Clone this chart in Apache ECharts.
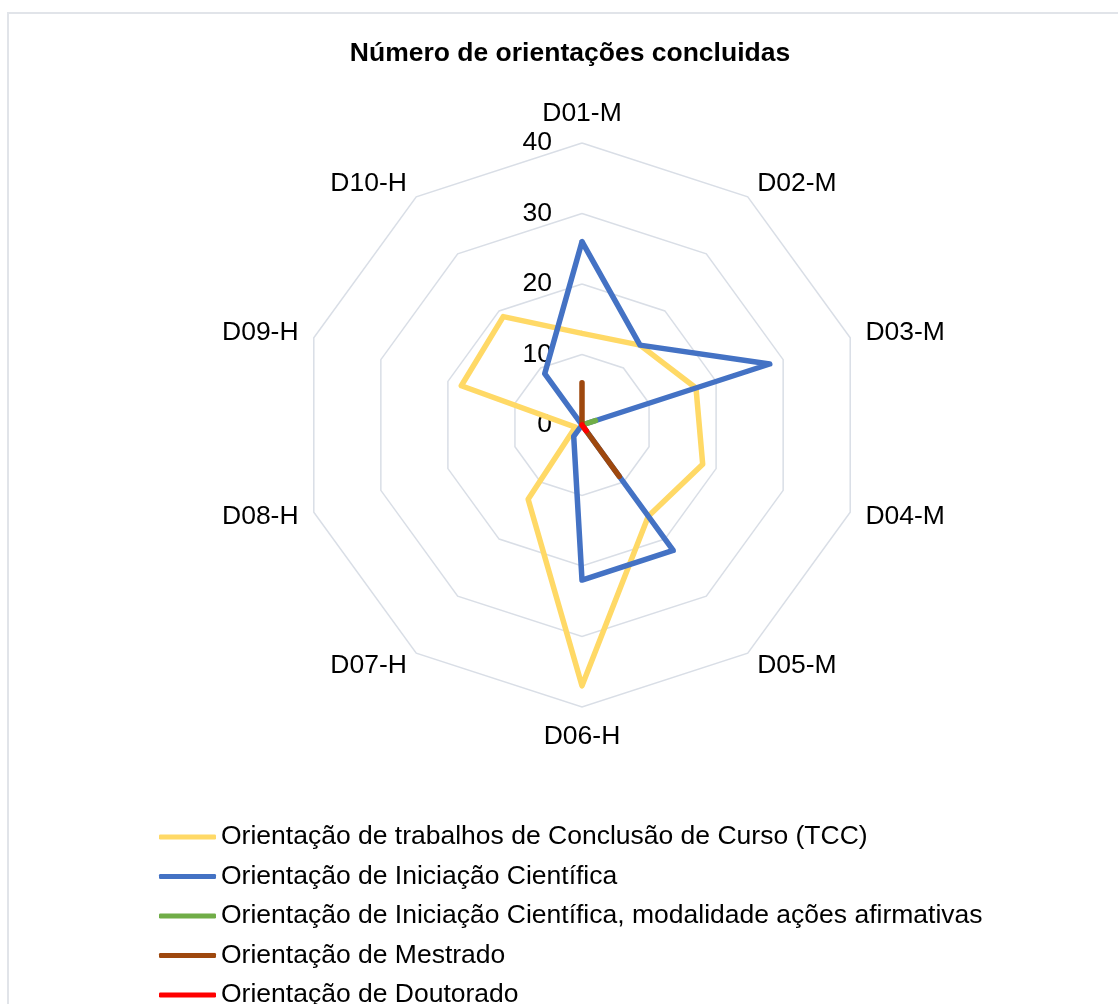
<!DOCTYPE html>
<html>
<head>
<meta charset="utf-8">
<title>Número de orientações concluidas</title>
<script src="https://cdn.jsdelivr.net/npm/echarts@6/dist/echarts.min.js"></script>
<style>
  html, body { margin: 0; padding: 0; background: #fff; }
  #chart { width: 1118px; height: 1004px; }
</style>
</head>
<body>
<div id="chart"></div>
<script>
// eixos do radar (sentido horário a partir do topo)
var categories = ['D01-M', 'D02-M', 'D03-M', 'D04-M', 'D05-M', 'D06-H', 'D07-H', 'D08-H', 'D09-H', 'D10-H']
var tickLabels = ['0', '10', '20', '30', '40']

var tcc = [13, 14, 17, 18, 16, 37, 13, 1, 18, 19]
var iniciacao = [26, 14, 28, 0, 22, 22, 2, 0, 0, 9]
var iniciacaoAfirmativa = [0, 0, 2, 0, 0, 0, 0, 0, 0, 0]
var mestrado = [6, 0, 0, 0, 9, 0, 0, 0, 0, 0]
var doutorado = [0, 0, 0, 0, 1, 0, 0, 0, 0, 0]

var seriesNames = [
  'Orientação de trabalhos de Conclusão de Curso (TCC)',
  'Orientação de Iniciação Científica',
  'Orientação de Iniciação Científica, modalidade ações afirmativas',
  'Orientação de Mestrado',
  'Orientação de Doutorado'
]
var colors = ['#FFD966', '#4472C4', '#70AD47', '#9E480E', '#FF0000']

var fontFamily = 'Liberation Sans, Arial, sans-serif'
var fontSize = 26.5

// echarts distribui os indicadores no sentido anti-horário, então invertemos a ordem
var order = [0, 9, 8, 7, 6, 5, 4, 3, 2, 1]
function reorder(arr) {
  return order.map(function (i) { return arr[i] })
}

var maxValue = Number(tickLabels[tickLabels.length - 1])
var indicators = order.map(function (i) {
  var ind = { name: categories[i], min: 0, max: maxValue }
  if (i === 0) {
    // só o primeiro eixo mostra os valores
    ind.axisLabel = {
      show: true,
      margin: 30,
      color: '#000',
      fontSize: fontSize,
      fontFamily: fontFamily
    }
  }
  return ind
})

var allSeries = [tcc, iniciacao, iniciacaoAfirmativa, mestrado, doutorado]

var chart = echarts.init(document.getElementById('chart'))
chart.setOption({
  backgroundColor: '#fff',
  textStyle: { fontFamily: fontFamily },
  title: {
    text: 'Número de orientações concluidas',
    left: 565,
    textAlign: 'center',
    top: 35,
    textStyle: { fontSize: fontSize, fontWeight: 'bold', color: '#000', fontFamily: fontFamily }
  },
  graphic: [
    {
      type: 'rect',
      shape: { x: 8, y: 13, width: 1200, height: 1100 },
      style: { fill: 'none', stroke: '#e1e4e9', lineWidth: 2 },
      silent: true
    }
  ],
  legend: {
    orient: 'vertical',
    left: 159,
    top: 822,
    height: 300,
    padding: 0,
    icon: 'roundRect',
    itemWidth: 57,
    itemHeight: 5,
    itemGap: 9.5,
    data: seriesNames,
    textStyle: { fontSize: fontSize, color: '#000', lineHeight: 30, fontFamily: fontFamily }
  },
  radar: {
    center: [582, 425],
    radius: 282,
    startAngle: 90,
    shape: 'polygon',
    splitNumber: tickLabels.length - 1,
    indicator: indicators,
    nameGap: 16,
    axisName: {
      color: '#000',
      fontSize: fontSize,
      fontFamily: fontFamily
    },
    axisLine: { show: false },
    axisTick: { show: false },
    axisLabel: { show: false },
    splitLine: { lineStyle: { color: '#d9dee6', width: 1.5 } },
    splitArea: { show: false }
  },
  series: [
    {
      type: 'radar',
      symbol: 'none',
      data: allSeries.map(function (values, k) {
        return {
          name: seriesNames[k],
          value: reorder(values),
          itemStyle: { color: colors[k] },
          lineStyle: { color: colors[k], width: 5.5, join: 'round', cap: 'round' }
        }
      })
    }
  ]
})
</script>
</body>
</html>
